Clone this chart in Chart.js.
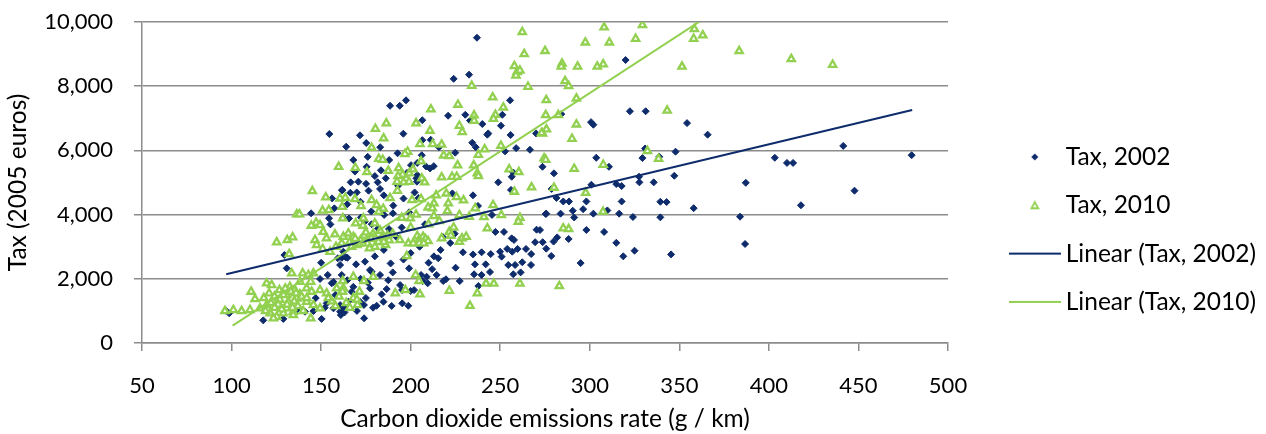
<!DOCTYPE html>
<html><head><meta charset="utf-8">
<script src="https://cdn.jsdelivr.net/npm/chart.js@4.4.1/dist/chart.umd.min.js"></script>
<style>html,body{margin:0;padding:0;background:#fff;}#wrap{width:1266px;height:434px;}</style>
</head><body><div id="wrap"><canvas id="c" width="1266" height="434"></canvas></div>
<script>
// ---- Data ----
const xTicks = [50,100,150,200,250,300,350,400,450,500];
const yTicks = [0,2000,4000,6000,8000,10000];
const seriesNames = ["Tax, 2002","Tax, 2010","Linear (Tax, 2002)","Linear (Tax, 2010)"];

const tax2002X = [154.6,164,237,232.6,224,255.5,188.5,193.9,197.4,220.9,230.5,251.2,206.5,233.1,240,250.4,171.7,195.9,242.8,243.3,255.8,270,175.2,206.5,211.2,215.8,234.4,236.3,258.9,266.6,252.7,192.7,224.9,206.2,200.2,203.7,208.6,210.8,212.9,273.6,175.4,168.9,183.4,203.7,203.2,257.3,256.4,
320,284.1,322.4,331.2,300.7,302,354.3,365.8,280,303.6,310.7,330.9,329.4,338.8,347.9,327.5,347.2,403.3,410.1,413.5,441.5,479.7,387.1,447.8,417.9,383.9,386.7,
278.7,300.9,314.8,317.8,327.7,335.7,281.4,285.2,288.4,298.1,317.8,339.4,342.9,358,275.7,283.7,290.5,291.3,296.3,302,309.8,316.4,324.1,339.4,272.2,298.1,308,273.7,279.8,281.8,288.2,275.7,278.5,314.8,325,318.7,294.9,345.4,
166.5,170.8,175.1,181.6,186.1,203.5,248.9,161.8,166.3,169.9,176.5,182.9,202.2,204.4,223.3,234.8,256,237.6,190.3,185.2,190.1,199.1,165.6,172.2,174.4,178.2,181.8,187.9,245.4,275.4,247.3,252.1,256.4,257.7,270.3,222.1,224.6,
216.7,215.4,229.2,234.8,239.6,244.7,249.9,250.8,253.9,256.7,259.7,264.4,267.3,269.5,235.9,241.9,254.5,258.3,262.3,267.2,225.1,235.4,239.6,244.3,257.3,261.4,237.8,227.4,219.7,218.2,214.5,209.5,206.7,208.9,205.8,199.1,188.8,
182.9,178.2,177.3,174.5,169.5,164.7,161.5,187.5,194.1,195.2,200,201.9,183.8,186.6,184.8,181,189.4,195.3,198.7,173.9,174,177.3,176.1,171.7,160.6,162,163,161,165,
161.7,156.1,157.4,164.6,144.4,154.4,155.2,162.4,129.5,130.8,150,160.6,159.3,162.4,163.7,153.7,149.4,155.9,161.5,164.6,96.9,98.7,117.7,136.4,141,145.7,150.3,128.9,160.6,163.3,165.2,156.9,153.1,
147,152,158,167,170,175,179,157,168,172,185,192,196,200,205,210,190,180,213,218,195,208,212,172,178,185,193,198,188,180,196,176,183,168];
const tax2002Y = [6510,6115,9510,8360,8230,7560,7390,7390,7560,7080,7110,7110,6940,6930,6820,6770,6470,6520,6490,6530,6480,6530,6230,6320,6330,6100,6240,6100,6070,6020,5970,5910,5930,5850,5540,5610,5500,5440,5510,5490,5490,5340,5380,5230,5130,5310,5180,
8815,7130,7220,7220,6880,6800,6850,6490,5285,5770,5490,6060,5760,5800,5960,5180,5210,5770,5610,5610,6140,5850,4990,4745,4290,3935,3085,
4800,4930,4950,4890,5005,5005,4520,4410,4410,4410,4410,4400,4390,4200,4030,4030,4120,3910,4170,4030,4130,4030,3925,3915,3520,3520,3460,3140,3160,3290,3240,2940,2710,3120,2875,2700,2490,2760,
5005,5025,4960,5005,5130,5025,5005,4770,4680,4690,4745,4800,4690,4520,4660,4600,4770,4270,4280,3990,4040,4070,3880,3910,3780,3700,3570,3550,3990,4020,3460,3460,3260,3210,3530,3115,3405,
2900,2640,2825,2760,2825,2770,2845,2690,2930,2845,2930,2930,2770,3140,2450,2450,2430,2430,2515,2430,2345,2140,2120,2210,2140,2200,1775,1930,1985,1930,2120,1860,1930,2065,2120,2325,2480,
2120,2220,2275,2535,2450,2655,2655,1955,1805,1650,1620,1650,1515,1680,1285,1160,1155,1235,1160,1185,770,1705,1880,1285,1180,1050,950,870,1100,
4755,4505,4195,4320,4040,3885,3695,3915,2740,2325,2500,2430,2640,2845,2670,2120,1995,1860,2120,1955,1005,925,705,1030,975,995,750,750,975,1185,1285,1080,1235,
1400,1100,1500,1600,1000,1400,1100,1900,1750,2000,2900,3300,2600,2800,3000,2500,2200,2700,2700,3300,3600,3700,2300,4400,4100,4600,4900,5300,5700,5200,4500,5800,6100,5700];

const tax2010X = [159.8,262.3,263.4,275,257.9,259.4,261,258.8,234.1,265.5,245.8,275.7,211.3,226.4,251.7,235.4,235.4,247.3,246.2,186.4,203,227.2,228.8,210.8,180.3,184.9,273.6,275.8,178.2,205.2,212.3,217.3,250.4,241.3,237.8,198.3,196.8,218.4,221.6,182.2,184.4,205.8,226.2,235.2,274.5,275.4,169.1,175.6,187.5,193.3,195.5,192.9,199.2,201.3,217.3,206.2,223.1,225.7,237.2,237.8,255,260.4,
308,329.4,297.5,310.9,325.6,358.4,358,363.1,383.4,284.5,284.1,293.2,304.2,307.5,351.5,286.2,288.2,292.5,275.4,282.4,343.2,292.5,273.1,290.1,291.3,307.5,332.2,338.4,412.5,435.6,280,297.7,307.4,285.2,288.2,283,
192.4,196.1,199.1,207.8,267.5,192.6,214.2,219.9,225.6,229.5,257.9,163.5,168.9,172.3,178.2,188.5,200.8,205.8,209.7,213,181,184.7,182.2,221,220.5,212.1,213,199.8,173.6,162.1,169.3,173.4,180,186.6,194,227.2,232.7,240.9,250.6,261,260.1,242.8,
217.3,221.6,222.4,227.2,228.7,231,203.7,204.8,206.9,208.2,209.7,198.7,201.4,204.8,207.3,197.8,242.1,246.4,261,237.2,221.6,233.1,202.8,204.7,179.1,173.9,168,162.1,171.4,170.3,197,191.4,205.2,
145.1,152.6,160.5,161.8,150.8,154.3,136.4,137.9,147.2,144.5,149.4,151.2,153,157.7,162.4,165.2,146.6,147.5,150.9,155,158.3,161.5,125.2,131.1,134.1,132.2,133.6,139.7,142.9,145.7,138.2,144.2,
119.6,122.4,126.7,132.6,135.4,130.8,138.2,141.9,144.7,149.4,153.1,158.7,162.4,110.9,113.1,105.6,110.3,101,96.3,115.9,119.6,123.4,127.1,130.8,134.5,121.5,125.2,128.9,131.7,136.4,141.9,145.7,149.4,144.2,134.5,123.4,
166,168,170,172,174,176,178,180,182,184,186,188,190,167,175,183,171,179,187,169,177,185,
118,121,124,127,129,131,133,135,137,139,128,126,140,142,130,124,119,122,134,136,
156,160,164,168,158,166,170,162,154,195,203,210,216,224,236,246,200];
const tax2010Y = [5490,9690,9000,9100,8630,8440,8490,8330,8015,7985,7655,7570,7280,7425,7340,7095,6925,7110,6985,6845,6845,6770,6575,6615,6675,6375,6530,6655,6085,6200,6200,6180,6145,6035,5865,5960,5890,5845,5825,5740,5710,5660,5535,5535,5755,5710,5460,5325,5365,5450,5245,5200,5285,5410,5160,5130,5180,5180,5285,5200,5410,5325,
9835,9905,9365,9365,9480,9780,9480,9585,9095,8710,8610,8610,8610,8680,8610,8160,8005,7620,7100,7100,7240,6810,6540,6365,5430,5555,5980,5740,8845,8670,4840,4680,4090,3575,3550,1775,
5025,5005,5025,5005,4850,4745,4600,4660,4550,4445,4715,4525,4485,4270,4455,4515,4455,4485,4225,4350,4300,4185,4090,4350,4110,4195,3955,3885,3885,3885,3730,3655,3730,3260,3210,3985,3935,3925,3985,3905,3780,3575,
3260,3465,3345,3155,3260,3310,3335,3230,3310,3240,3175,3105,3105,3105,3105,2710,1850,1850,1850,1550,1630,1160,2120,1930,2065,1930,2065,1930,1600,1185,1650,1550,1515,
4735,4540,4505,4245,4125,4145,4010,4010,3750,3655,3675,3465,3260,3385,3310,3415,3210,3055,2930,2845,3000,3105,3135,3210,3295,2770,2170,2170,2120,2170,1910,1910,
1860,1805,1650,1755,1650,1495,1515,1705,1600,1650,1550,1705,1705,1600,1370,995,1030,1030,995,1080,1185,1285,1130,1080,975,925,820,925,1285,1390,1285,1185,1080,770,870,770,
3150,3300,3050,3200,3350,3100,3250,3000,3150,3300,3050,3200,3400,3000,3450,3500,3100,3400,3350,3250,2950,3150,
1400,1550,1450,1350,1500,1200,1600,1300,1150,1450,1050,1200,1000,1400,1700,1100,1000,1250,1100,1550,
1300,1450,1250,1400,1150,1100,1350,1600,1400,3900,4000,3700,3800,3600,4200,4300,3600];

// Linear trend lines as drawn in the picture (end points)
const trend2002X = [97, 480];
const trend2002Y = [2140, 7258];
const trend2010X = [100.6, 435.6];
const trend2010Y = [539, 12715];

// ---- Styling ----
const FONT = 'Lato, "Open Sans", sans-serif';
const BLUE = '#0E2C6C';
const GREEN = '#92D050';
const GRID = '#8C8C8C';
const FS = 22;     // tick labels
const FT = 24.5;   // titles and legend

const pts = (xs, ys) => xs.map((x, i) => ({x, y: ys[i]}));

function icon(w, h, draw) {
  const c = document.createElement('canvas'); c.width = w; c.height = h;
  draw(c.getContext('2d')); return c;
}
const legendIcons = [
  icon(10, 10, g => { g.fillStyle = BLUE; g.beginPath(); g.moveTo(5, 1.5); g.lineTo(8.5, 5); g.lineTo(5, 8.5); g.lineTo(1.5, 5); g.closePath(); g.fill(); }),
  icon(10, 10, g => { g.fillStyle = '#fff'; g.strokeStyle = GREEN; g.lineWidth = 1.8; g.beginPath(); g.moveTo(5, 1.8); g.lineTo(8.4, 8); g.lineTo(1.6, 8); g.closePath(); g.fill(); g.stroke(); }),
  icon(52, 4, g => { g.fillStyle = BLUE; g.fillRect(0, 1, 52, 2); }),
  icon(52, 4, g => { g.fillStyle = GREEN; g.fillRect(0, 1, 52, 2); })
];

const mctx = document.createElement('canvas').getContext('2d');
mctx.font = FT + 'px ' + FONT;
const maxText = Math.max(...seriesNames.map(t => mctx.measureText(t).width));
const BOXW = 37.5, LPAD = 23.8;
const legendW = LPAD + BOXW + FT / 2 + maxText + 10;
const plotRight = 948;
const gapW = Math.max(0, 1266 - plotRight - legendW);

new Chart(document.getElementById('c'), {
  type: 'scatter',
  data: {
    datasets: [
      {label: seriesNames[0], data: pts(tax2002X, tax2002Y), pointStyle: 'rectRot', pointRadius: 3.5, borderWidth: 1,
       backgroundColor: BLUE, borderColor: BLUE, order: 3},
      {label: seriesNames[1], data: pts(tax2010X, tax2010Y), pointStyle: 'triangle', pointRadius: 4.2, borderWidth: 2.3,
       backgroundColor: '#ffffff', borderColor: GREEN, order: 2},
      {label: seriesNames[2], data: pts(trend2002X, trend2002Y), showLine: true, pointRadius: 0,
       borderColor: BLUE, backgroundColor: BLUE, borderWidth: 2, order: 1},
      {label: seriesNames[3], data: pts(trend2010X, trend2010Y), showLine: true, pointRadius: 0,
       borderColor: GREEN, backgroundColor: GREEN, borderWidth: 2, order: 0}
    ]
  },
  options: {
    responsive: false, animation: false, devicePixelRatio: 1, events: [],
    layout: {padding: {top: 10, left: 0, right: 0, bottom: 0}},
    plugins: {
      tooltip: {enabled: false},
      legend: {
        position: 'right',
        maxWidth: 600,
        title: {display: true, text: ' ', font: {size: 1}, padding: {top: 13.7, bottom: 0}},
        labels: {
          usePointStyle: true, pointStyleWidth: BOXW, boxHeight: 5, padding: LPAD,
          font: {family: FONT, size: FT}, color: '#000',
          sort: (a, b) => a.datasetIndex - b.datasetIndex,
          generateLabels: chart => {
            const items = Chart.defaults.plugins.legend.labels.generateLabels(chart);
            items.forEach(it => { it.pointStyle = legendIcons[it.datasetIndex]; it.rotation = 0; });
            return items;
          }
        }
      }
    },
    scales: {
      x: {
        type: 'linear', min: xTicks[0], max: xTicks[xTicks.length - 1],
        afterBuildTicks: s => { s.ticks = xTicks.map(v => ({value: v})); },
        ticks: {font: {family: FONT, size: FS}, color: '#000', padding: 22, maxRotation: 0, autoSkip: false},
        grid: {drawOnChartArea: false, tickLength: 8, color: GRID, lineWidth: 1.5},
        border: {color: GRID, width: 1.5},
        title: {display: true, text: 'Carbon dioxide emissions rate (g / km)', font: {family: FONT, size: FT}, color: '#000', padding: {top: 0, bottom: 0}},
        afterFit: s => { s.height = 91; }
      },
      y: {
        type: 'linear', min: yTicks[0], max: yTicks[yTicks.length - 1],
        afterBuildTicks: s => { s.ticks = yTicks.map(v => ({value: v})); },
        ticks: {font: {family: FONT, size: FS}, color: '#000', padding: 21, callback: v => v.toLocaleString('en-US')},
        grid: {color: GRID, lineWidth: 1.5, tickLength: 8},
        border: {color: GRID, width: 1.5},
        title: {display: true, text: 'Tax (2005 euros)', font: {family: FONT, size: FT}, color: '#000', padding: {top: 3, bottom: 0}},
        afterFit: s => { s.width = 142; s.paddingTop = 22; }
      },
      gap: {
        type: 'linear', position: 'right', display: true,
        ticks: {display: false}, grid: {display: false}, border: {display: false},
        afterFit: s => { s.width = gapW; }
      }
    }
  }
});
</script>
</body></html>
